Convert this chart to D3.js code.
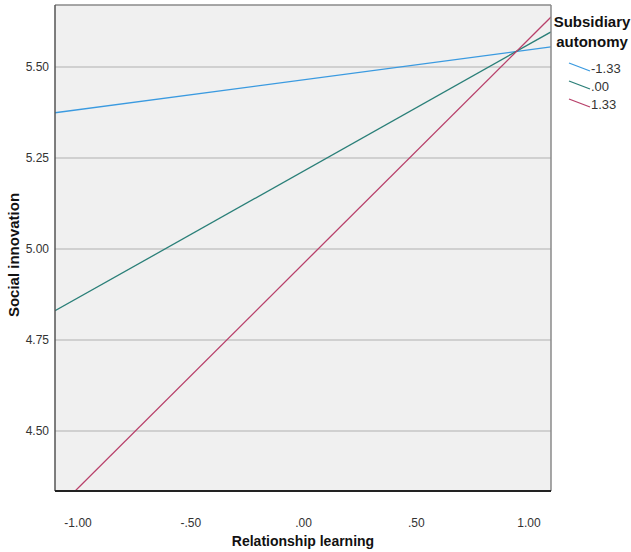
<!DOCTYPE html>
<html>
<head>
<meta charset="utf-8">
<script src="https://cdn.jsdelivr.net/npm/d3@7"></script>
<style>
  body { margin: 0; background: #fff; }
  svg text { font-family: "Liberation Sans", Arial, sans-serif; }
</style>
</head>
<body>
<div id="chart"></div>
<script>
// Data
var xEnds = [-1.1, 1.1];
var groups = ["-1.33", ".00", "1.33"];
var lowVals = [5.374, 4.830, 4.280];
var highVals = [5.555, 5.596, 5.637];
var colors = ["#3a9ae0", "#2a7f78", "#b8406a"];
var xTicks = [-1, -0.5, 0, 0.5, 1];
var yTicks = [4.5, 4.75, 5.0, 5.25, 5.5];

var W = 631, H = 552;
var margin = {top: 5, right: 80, bottom: 61, left: 55};
var width = W - margin.left - margin.right;   // 496
var height = H - margin.top - margin.bottom;  // 486

var svg = d3.select("#chart")
    .append("svg")
    .attr("width", W)
    .attr("height", H);

var g = svg.append("g")
    .attr("transform", `translate(${margin.left},${margin.top})`);

var x = d3.scaleLinear().domain([-1.1, 1.1]).range([0, width]);
var y = d3.scaleLinear().domain([4.335, 5.67]).range([height, 0]);

// spss style number: drop leading zero, plain hyphen
function spss(v) {
    var s = Math.abs(v).toFixed(2).replace(/^0\./, ".");
    return (v < 0 ? "-" : "") + s;
}

g.append("rect")
    .attr("width", width)
    .attr("height", height)
    .attr("fill", "#f0f0f0");

g.append("clipPath").attr("id", "clip")
    .append("rect").attr("width", width).attr("height", height);

// gridlines
g.selectAll(".grid")
    .data(yTicks)
    .enter().append("line")
    .attr("x1", 0).attr("x2", width)
    .attr("y1", d => y(d)).attr("y2", d => y(d))
    .attr("stroke", "#c6c6c6")
    .attr("stroke-width", 1.5);

// lines
var line = d3.line().x(d => x(d[0])).y(d => y(d[1]));
g.append("g").attr("clip-path", "url(#clip)")
    .selectAll("path")
    .data(groups)
    .enter().append("path")
    .attr("d", (d, i) => line([[xEnds[0], lowVals[i]], [xEnds[1], highVals[i]]]))
    .attr("fill", "none")
    .attr("stroke", (d, i) => colors[i])
    .attr("stroke-width", 1.3);

// frame
g.append("line").attr("x1", 0).attr("x2", width).attr("y1", 0).attr("y2", 0)
    .attr("stroke", "#8a8a8a").attr("stroke-width", 1.5);
g.append("line").attr("x1", width).attr("x2", width).attr("y1", 0).attr("y2", height)
    .attr("stroke", "#8a8a8a").attr("stroke-width", 1.5);
g.append("line").attr("x1", 0).attr("x2", 0).attr("y1", 0).attr("y2", height)
    .attr("stroke", "#555").attr("stroke-width", 1.5);
g.append("line").attr("x1", 0).attr("x2", width).attr("y1", height).attr("y2", height)
    .attr("stroke", "#222").attr("stroke-width", 2);

// axes
var xAxis = g.append("g")
    .attr("transform", `translate(0,${height})`)
    .call(d3.axisBottom(x).tickValues(xTicks).tickSize(0).tickPadding(27).tickFormat(spss));
var yAxis = g.append("g")
    .call(d3.axisLeft(y).tickValues(yTicks).tickSize(0).tickPadding(6).tickFormat(spss));
[xAxis, yAxis].forEach(function(a) {
    a.select(".domain").remove();
    a.selectAll("text")
        .attr("font-family", "'Liberation Sans Narrow', 'Liberation Sans', Arial, sans-serif")
        .attr("font-size", 12)
        .attr("fill", "#333");
});

// axis titles
svg.append("text")
    .attr("x", margin.left + width / 2)
    .attr("y", 546)
    .attr("text-anchor", "middle")
    .attr("font-size", 14)
    .attr("font-weight", "bold")
    .attr("fill", "#111")
    .text("Relationship learning");

svg.append("text")
    .attr("transform", "translate(19,255) rotate(-90)")
    .attr("text-anchor", "middle")
    .attr("font-size", 15)
    .attr("font-weight", "bold")
    .attr("fill", "#111")
    .text("Social innovation");

// legend
var leg = svg.append("g").attr("transform", "translate(592,0)");
leg.append("text").attr("x", 0).attr("y", 27).attr("text-anchor", "middle")
    .attr("font-size", 15).attr("font-weight", "bold").attr("fill", "#111")
    .text("Subsidiary");
leg.append("text").attr("x", 0).attr("y", 47).attr("text-anchor", "middle")
    .attr("font-size", 15).attr("font-weight", "bold").attr("fill", "#111")
    .text("autonomy");

var items = leg.selectAll(".item")
    .data(groups)
    .enter().append("g")
    .attr("transform", (d, i) => `translate(0,${67 + i * 18})`);
items.append("line")
    .attr("x1", -23).attr("y1", -4).attr("x2", -2).attr("y2", 4)
    .attr("stroke", (d, i) => colors[i])
    .attr("stroke-width", 1.3);
items.append("text")
    .attr("x", -1).attr("y", 6)
    .attr("font-family", "'Liberation Sans Narrow', 'Liberation Sans', Arial, sans-serif")
    .attr("font-size", 13)
    .attr("fill", "#333")
    .text(d => d);
</script>
</body>
</html>
